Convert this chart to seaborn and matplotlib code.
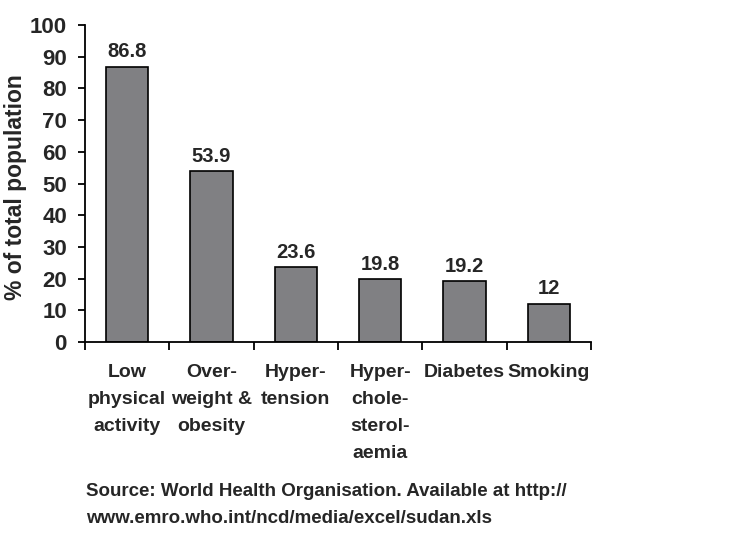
import numpy as np
import matplotlib
matplotlib.use('Agg')
import matplotlib.pyplot as plt
import seaborn as sns
import pandas as pd

# data
categories = ['Low\nphysical\nactivity', 'Over-\nweight &\nobesity', 'Hyper-\ntension',
              'Hyper-\nchole-\nsterol-\naemia', 'Diabetes', 'Smoking']
values = [86.8, 53.9, 23.6, 19.8, 19.2, 12]
value_labels = ['86.8', '53.9', '23.6', '19.8', '19.2', '12']

df = pd.DataFrame({'risk': categories, 'pct': values})

sns.set_theme(style = 'white')
plt.rcParams['font.family'] = ['Liberation Sans', 'DejaVu Sans']
plt.rcParams['font.weight'] = 'bold'

fig = plt.figure(figsize = (7.52, 5.43), dpi = 100)
ax = fig.add_axes([0.113, 0.370, 0.673, 0.584])

sns.barplot(data = df, x = 'risk', y = 'pct', color = '#808083',
            edgecolor = 'black', linewidth = 1.2, width = 0.5, saturation = 1, ax = ax)

ax.bar_label(ax.containers[0], labels = value_labels, padding = 4,
             fontsize = 14.5, fontweight = 'bold')

ax.set_ylim(0, 100)
ax.set_xlim(-0.5, 5.5)
ax.set_yticks(np.arange(0, 101, 10))
ax.set_xlabel('')
ax.set_ylabel('% of total population', fontsize = 16.5, fontweight = 'bold')
ax.yaxis.set_label_coords(-0.114, 0.49)

for s in ['top', 'right']:
    ax.spines[s].set_visible(False)
for s in ['left', 'bottom']:
    ax.spines[s].set_color('black')
    ax.spines[s].set_linewidth(1.3)

ax.tick_params(axis = 'y', which = 'major', left = True, length = 5, width = 1.3,
               direction = 'out', labelsize = 16, pad = 8, color = 'black')
ax.set_xticks(np.arange(-0.5, 6, 1), minor = True)
ax.tick_params(axis = 'x', which = 'major', length = 0, pad = 16, labelsize = 14)
ax.tick_params(axis = 'x', which = 'minor', bottom = True, length = 6, width = 1.3,
               direction = 'out', color = 'black')
for lab in ax.get_xticklabels():
    lab.set_linespacing(1.75)
    lab.set_verticalalignment('top')
for lab in ax.get_xticklabels() + ax.get_yticklabels():
    lab.set_fontweight('bold')

fig.text(0.114, 0.110, 'Source: World Health Organisation. Available at http://\n'
         'www.emro.who.int/ncd/media/excel/sudan.xls',
         fontsize = 13.5, fontweight = 'bold', ha = 'left', va = 'top', linespacing = 1.75)

plt.savefig('out.png', dpi = 100)
